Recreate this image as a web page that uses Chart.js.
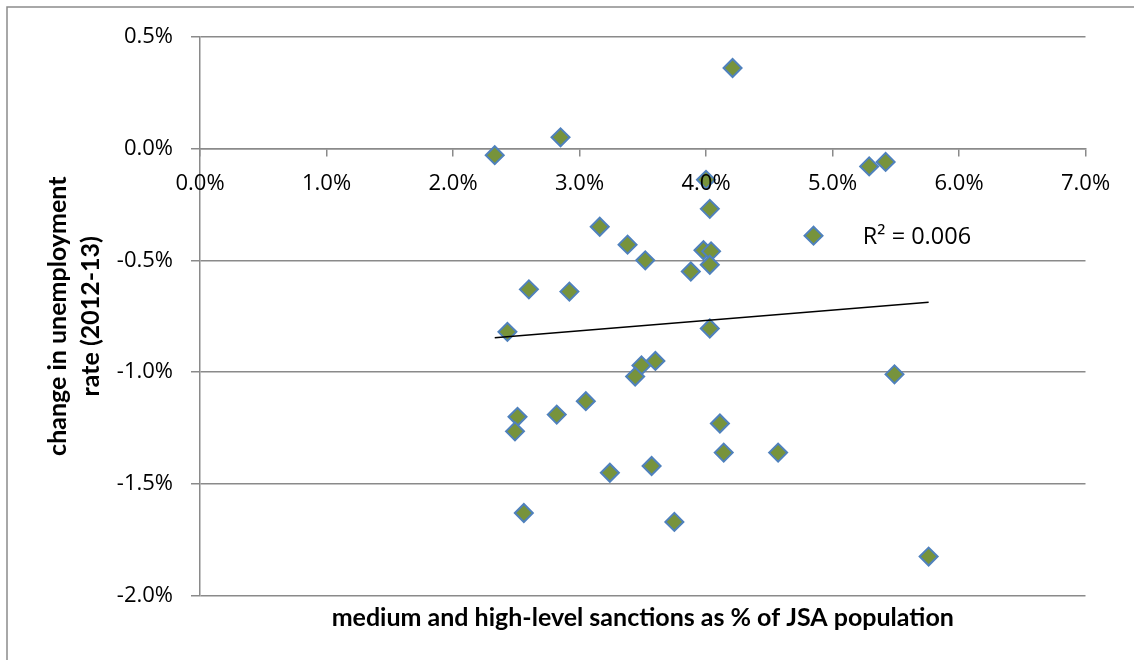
<!DOCTYPE html>
<html>
<head>
<meta charset="utf-8">
<script src="https://cdn.jsdelivr.net/npm/chart.js@4/dist/chart.umd.min.js"></script>
<style>
  html, body { margin: 0; padding: 0; background: #fff; }
  #wrap { width: 1134px; height: 660px; position: relative; }
</style>
</head>
<body>
<div id="wrap"><canvas id="c" width="1134" height="660"></canvas></div>
<script>
// Medium and high-level sanctions as % of JSA population, by area
const sanctionsPct = [4.21, 2.85, 2.33, 4.00, 5.29, 5.42, 4.03, 3.16, 4.85, 3.38, 3.52, 3.98,
                      4.04, 4.03, 3.88, 2.92, 2.60, 2.43, 4.03, 3.60, 3.49, 3.44, 3.05, 2.82,
                      2.51, 2.49, 4.11, 4.14, 4.57, 3.24, 3.57, 2.56, 3.75, 5.76, 5.49];
// Change in unemployment rate 2012-13, percentage points
const unemploymentChange = [0.36, 0.05, -0.03, -0.14, -0.08, -0.06, -0.27, -0.35, -0.39, -0.43, -0.50, -0.455,
                            -0.46, -0.52, -0.55, -0.64, -0.63, -0.82, -0.805, -0.95, -0.97, -1.02, -1.13, -1.19,
                            -1.20, -1.265, -1.23, -1.36, -1.36, -1.45, -1.42, -1.63, -1.67, -1.825, -1.01];

const xTickValues = [0, 1, 2, 3, 4, 5, 6, 7];
const yTickValues = [-2.0, -1.5, -1.0, -0.5, 0.0, 0.5];
const xTitle = 'medium and high-level sanctions as % of JSA population';
const yTitle = ['change in unemployment', 'rate (2012-13)'];
const rSquaredLabel = 'R\u00B2 = 0.006';

// Least-squares linear trend through the points
function linearFit(xs, ys) {
  const n = xs.length;
  const mx = xs.reduce((a, b) => a + b, 0) / n;
  const my = ys.reduce((a, b) => a + b, 0) / n;
  let sxy = 0, sxx = 0;
  for (let i = 0; i < n; i++) { sxy += (xs[i] - mx) * (ys[i] - my); sxx += (xs[i] - mx) ** 2; }
  const slope = sxy / sxx;
  return { slope, intercept: my - slope * mx };
}
const fit = linearFit(sanctionsPct, unemploymentChange);
const xMin = Math.min(...sanctionsPct), xMax = Math.max(...sanctionsPct);
const trendPoints = [xMin, xMax].map(x => ({ x, y: fit.intercept + fit.slope * x }));
const scatterPoints = sanctionsPct.map((x, i) => ({ x, y: unemploymentChange[i] }));

const gridColor = '#8a8a8a';
const tickFont = { family: "'Open Sans', sans-serif", size: 22 };
const titleFontFamily = "Lato, 'Open Sans', sans-serif";
const pct = v => Number(v).toFixed(1) + '%';

const framePlugin = {
  id: 'frame',
  beforeDraw(chart) {
    const ctx = chart.ctx;
    ctx.save();
    ctx.fillStyle = '#fff';
    ctx.fillRect(0, 0, chart.width, chart.height);
    ctx.strokeStyle = '#8c8c8c';
    ctx.lineWidth = 1.5;
    ctx.beginPath();
    ctx.moveTo(7, chart.height);
    ctx.lineTo(7, 7);
    ctx.lineTo(chart.width, 7);
    ctx.stroke();
    ctx.restore();
  }
};

const rSquaredPlugin = {
  id: 'rSquared',
  afterDatasetsDraw(chart) {
    const { ctx, scales } = chart;
    ctx.save();
    ctx.font = "23.5px 'Open Sans', sans-serif";
    ctx.fillStyle = '#000';
    ctx.textAlign = 'left';
    ctx.textBaseline = 'middle';
    ctx.fillText(rSquaredLabel, scales.x.getPixelForValue(5.24), scales.y.getPixelForValue(-0.397));
    ctx.restore();
  }
};

new Chart(document.getElementById('c'), {
  data: {
    datasets: [
      {
        type: 'line',
        data: trendPoints,
        borderColor: '#000',
        borderWidth: 1.5,
        pointRadius: 0,
        fill: false
      },
      {
        type: 'scatter',
        data: scatterPoints,
        pointStyle: 'rectRot',
        pointRadius: 9,
        backgroundColor: '#77933C',
        borderColor: '#4F81BD',
        borderWidth: 2
      }
    ]
  },
  options: {
    responsive: false,
    animation: false,
    devicePixelRatio: 1,
    layout: { padding: { left: 8, top: 36.7, right: 48.5, bottom: 28.6 } },
    plugins: { legend: { display: false }, tooltip: { enabled: false } },
    scales: {
      x: {
        type: 'linear',
        position: { y: 0 },
        min: 0, max: 7,
        afterBuildTicks: s => { s.ticks = xTickValues.map(v => ({ value: v })); },
        ticks: { callback: pct, font: tickFont, color: '#000', padding: 15.5, z: 1, maxRotation: 0, autoSkip: false },
        grid: { drawOnChartArea: false, drawTicks: true, tickLength: 7, color: gridColor, lineWidth: 1.5 },
        border: { display: true, color: gridColor, width: 1.5 }
      },
      x2: {
        type: 'linear',
        position: 'bottom',
        min: 0, max: 7,
        ticks: { display: false },
        grid: { display: false, drawTicks: false },
        border: { display: false },
        title: {
          display: true, text: xTitle, color: '#000',
          font: { family: titleFontFamily, size: 25, weight: 'bold', lineHeight: '26px' },
          padding: { top: 9.7, bottom: 0 }
        }
      },
      y: {
        type: 'linear',
        position: 'left',
        min: -2, max: 0.5,
        afterBuildTicks: s => { s.ticks = yTickValues.map(v => ({ value: v })); },
        afterFit: s => { s.width = 192; },
        ticks: { callback: pct, font: tickFont, color: '#000', padding: 18 },
        grid: { color: gridColor, lineWidth: 1.5, drawTicks: true, tickLength: 9 },
        border: { color: gridColor, width: 1.5 },
        title: {
          display: true, text: yTitle, color: '#000',
          font: { family: titleFontFamily, size: 25, weight: 'bold', lineHeight: '33.3px' },
          padding: { top: 33.4, bottom: 0 }
        }
      }
    }
  },
  plugins: [framePlugin, rSquaredPlugin]
});
</script>
</body>
</html>
